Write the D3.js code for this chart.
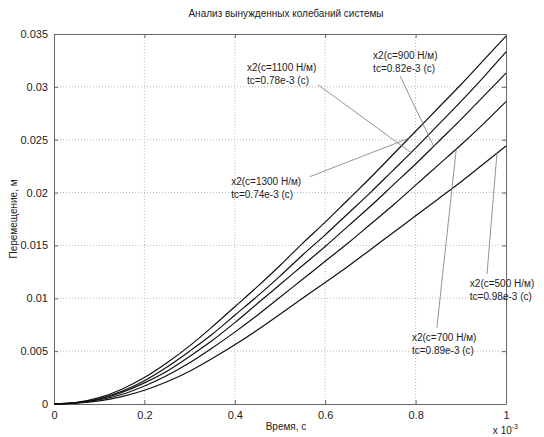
<!DOCTYPE html>
<html>
<head>
<meta charset="utf-8">
<script src="https://cdn.jsdelivr.net/npm/d3@7"></script>
<style>
body { margin: 0; background: #fff; }
svg { font-family: "Liberation Sans", Arial, sans-serif; }
</style>
</head>
<body>
<svg id="chart" width="544" height="437"></svg>
<script>
// time in ms (axis shows x 10^-3 s), displacement in m
const time = [0, 0.05, 0.1, 0.15, 0.2, 0.25, 0.3, 0.35, 0.4, 0.45, 0.5,
              0.55, 0.6, 0.65, 0.7, 0.75, 0.8, 0.85, 0.9, 0.95, 1.0];
const x2c1300 = [0, 0.00015, 0.0006, 0.0014, 0.0025, 0.0039, 0.0055, 0.0073, 0.0092, 0.0111, 0.0131,
                 0.0152, 0.0172, 0.0193, 0.0214, 0.0236, 0.0258, 0.0280, 0.0302, 0.0325, 0.0348];
const x2c1100 = [0, 0.00013, 0.0005, 0.0012, 0.0022, 0.0035, 0.0050, 0.0066, 0.0084, 0.0102, 0.0121,
                 0.0141, 0.0160, 0.0180, 0.0200, 0.0221, 0.0242, 0.0264, 0.0286, 0.0309, 0.0333];
const x2c900 = [0, 0.00011, 0.00045, 0.0011, 0.0020, 0.0031, 0.0045, 0.0060, 0.0077, 0.0095, 0.0113,
                0.0131, 0.0149, 0.0168, 0.0187, 0.0207, 0.0227, 0.0248, 0.0269, 0.0291, 0.0313];
const x2c700 = [0, 0.0001, 0.0004, 0.0009, 0.0017, 0.0027, 0.0039, 0.0053, 0.0068, 0.0084, 0.0101,
                0.0118, 0.0135, 0.0152, 0.0170, 0.0188, 0.0207, 0.0226, 0.0245, 0.0265, 0.0286];
const x2c500 = [0, 0.00008, 0.0003, 0.0007, 0.0013, 0.0021, 0.0031, 0.0043, 0.0056, 0.0070, 0.0085,
                0.0100, 0.0115, 0.0130, 0.0146, 0.0162, 0.0178, 0.0194, 0.0210, 0.0227, 0.0244];

const seriesLabels = ["x2(c=1300 H/м)", "x2(c=1100 H/м)", "x2(c=900 H/м)", "x2(c=700 H/м)", "x2(c=500 H/м)"];
const tcLabels = ["tc=0.74e-3 (c)", "tc=0.78e-3 (c)", "tc=0.82e-3 (c)", "tc=0.89e-3 (c)", "tc=0.98e-3 (c)"];

const xTicks = [0, 0.2, 0.4, 0.6, 0.8, 1];
const yTicks = [0, 0.005, 0.01, 0.015, 0.02, 0.025, 0.03, 0.035];

const allSeries = [x2c1300, x2c1100, x2c900, x2c700, x2c500];

const width = 544, height = 437;
const margin = {top: 34, right: 38, bottom: 33, left: 54};

const svg = d3.select("#chart");

const x = d3.scaleLinear().domain([0, 1]).range([margin.left, width - margin.right]);
const y = d3.scaleLinear().domain([0, 0.035]).range([height - margin.bottom, margin.top]);

// grid (dotted, like matlab "grid on")
svg.append("g")
  .selectAll("line")
  .data(xTicks.slice(1, -1))
  .enter().append("line")
  .attr("x1", d => x(d)).attr("x2", d => x(d))
  .attr("y1", y(0)).attr("y2", y(0.035))
  .attr("stroke", "#bbb").attr("stroke-dasharray", "1,2");
svg.append("g")
  .selectAll("line")
  .data(yTicks.slice(1, -1))
  .enter().append("line")
  .attr("x1", x(0)).attr("x2", x(1))
  .attr("y1", d => y(d)).attr("y2", d => y(d))
  .attr("stroke", "#bbb").attr("stroke-dasharray", "1,2");

// axes, ticks pointing inward, box on all sides
const axisColor = "#666";
const xAxis = d3.axisBottom(x).tickValues(xTicks).tickFormat(d3.format("~g")).tickSizeInner(-4).tickSizeOuter(0).tickPadding(7);
const yAxis = d3.axisLeft(y).tickValues(yTicks).tickFormat(d3.format("~g")).tickSizeInner(-4).tickSizeOuter(0).tickPadding(6);
const xTop = d3.axisTop(x).tickValues(xTicks).tickFormat("").tickSizeInner(-4).tickSizeOuter(0);
const yRight = d3.axisRight(y).tickValues(yTicks).tickFormat("").tickSizeInner(-4).tickSizeOuter(0);

const gx = svg.append("g").attr("transform", `translate(0,${y(0)})`).call(xAxis);
const gy = svg.append("g").attr("transform", `translate(${x(0)},0)`).call(yAxis);
const gt = svg.append("g").attr("transform", `translate(0,${y(0.035)})`).call(xTop);
const gr = svg.append("g").attr("transform", `translate(${x(1)},0)`).call(yRight);
[gx, gy, gt, gr].forEach(g => {
  g.selectAll("path, line").attr("stroke", axisColor);
  g.selectAll("text").attr("fill", "#222").style("font-size", "11px");
});

// curves
const line = d3.line()
  .x((d, i) => x(time[i]))
  .y(d => y(d))
  .curve(d3.curveMonotoneX);

svg.append("g")
  .selectAll("path")
  .data(allSeries)
  .enter().append("path")
  .attr("d", d => line(d))
  .attr("fill", "none")
  .attr("stroke", "#111")
  .attr("stroke-width", 1.2);

// annotation text anchors and leader lines (in data units)
const labelAt = [[0.392, 0.0207], [0.427, 0.0315], [0.706, 0.0326], [0.792, 0.0060], [0.920, 0.0111]];
const leaderFrom = [[0.566, 0.0215], [0.584, 0.0302], [0.766, 0.0310], [0.847, 0.0072], [0.958, 0.0123]];
const leaderTo = [0.785, 0.79, 0.84, 0.89, 0.98];

function valueAt(series, t) {
  const i = Math.min(d3.bisectRight(time, t), time.length - 1);
  const f = (t - time[i - 1]) / (time[i] - time[i - 1]);
  return series[i - 1] + f * (series[i] - series[i - 1]);
}

const notes = svg.append("g");
allSeries.forEach((s, k) => {
  notes.append("line")
    .attr("x1", x(leaderFrom[k][0])).attr("y1", y(leaderFrom[k][1]))
    .attr("x2", x(leaderTo[k])).attr("y2", y(valueAt(s, leaderTo[k])))
    .attr("stroke", "#888").attr("stroke-width", 0.9);
  const t = notes.append("text")
    .attr("x", x(labelAt[k][0])).attr("y", y(labelAt[k][1]))
    .style("font-size", "10px").attr("fill", "#222");
  t.append("tspan").text(seriesLabels[k]);
  t.append("tspan").attr("x", x(labelAt[k][0])).attr("dy", 13).text(tcLabels[k]);
});

// title and axis labels
svg.append("text")
  .attr("x", (x(0) + x(1)) / 2 + 6).attr("y", 17)
  .attr("text-anchor", "middle").style("font-size", "10px").attr("fill", "#222")
  .text("Анализ вынужденных колебаний системы");

svg.append("text")
  .attr("x", (x(0) + x(1)) / 2 + 6).attr("y", 430)
  .attr("text-anchor", "middle").style("font-size", "10px").attr("fill", "#222")
  .text("Время, с");

svg.append("text")
  .attr("transform", `translate(17,${(y(0) + y(0.035)) / 2}) rotate(-90)`)
  .attr("text-anchor", "middle").style("font-size", "10px").attr("fill", "#222")
  .text("Перемещение, м");

const expo = svg.append("text")
  .attr("x", x(1) + 12).attr("y", 434)
  .attr("text-anchor", "end").style("font-size", "10px").attr("fill", "#222");
expo.append("tspan").text("x 10");
expo.append("tspan").attr("dy", -5).style("font-size", "7px").text("-3");
</script>
</body>
</html>
